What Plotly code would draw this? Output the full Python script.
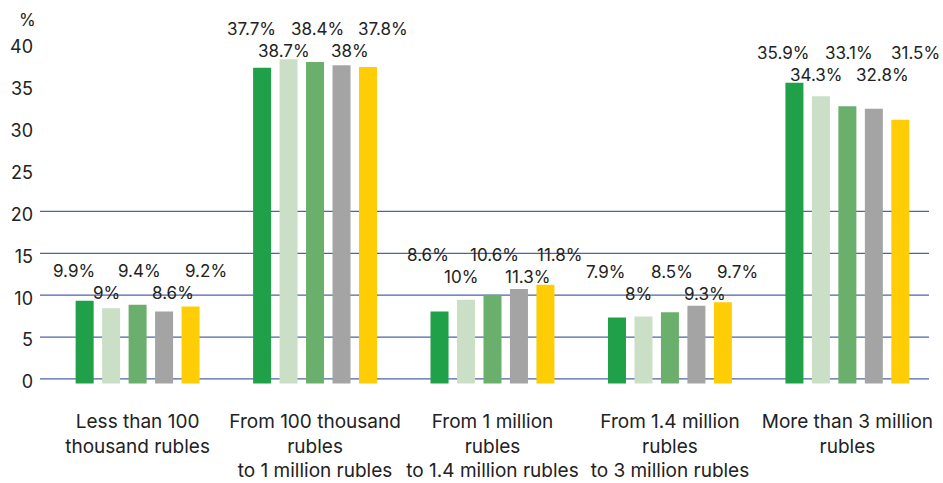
import plotly.graph_objects as go

# Income groups (x categories)
categories = [
    "Less than 100<br>thousand rubles",
    "From 100 thousand<br>rubles<br>to 1 million rubles",
    "From 1 million<br>rubles<br>to 1.4 million rubles",
    "From 1.4 million<br>rubles<br>to 3 million rubles",
    "More than 3 million<br>rubles",
]

# Five series per group, values in %
series_a = [9.9, 37.7, 8.6, 7.9, 35.9]
series_b = [9.0, 38.7, 10.0, 8.0, 34.3]
series_c = [9.4, 38.4, 10.6, 8.5, 33.1]
series_d = [8.6, 38.0, 11.3, 9.3, 32.8]
series_e = [9.2, 37.8, 11.8, 9.7, 31.5]

y_ticks = [0, 5, 10, 15, 20, 25, 30, 35, 40]
grid_levels = [0, 5, 10, 15, 20]

all_series = [series_a, series_b, series_c, series_d, series_e]
colors = ["#21a04a", "#cbdfc7", "#6baf6d", "#a3a4a3", "#fecd06"]

FONT = "Inter"
TEXT_COLOR = "#222222"
BASE = -0.55  # bars sit slightly below the zero line in the original

fig = go.Figure()

for i, vals in enumerate(all_series):
    fig.add_trace(
        go.Bar(
            x=categories,
            y=vals,
            base=BASE,
            marker=dict(color=colors[i], line=dict(width=0)),
            showlegend=False,
            hoverinfo="skip",
        )
    )

# gridlines only up to 20
for g in grid_levels:
    fig.add_shape(
        type="line", xref="paper", x0=0, x1=1, yref="y", y0=g, y1=g,
        line=dict(color="#4a64a6", width=1.3), layer="below",
    )

# staggered value labels
for j, cat in enumerate(categories):
    group_max = max(s[j] for s in all_series)
    for i, vals in enumerate(all_series):
        v = vals[j]
        txt = f"{v:g}%"
        fig.add_annotation(
            x=cat, y=group_max + BASE,
            xref="x", yref="y",
            text=txt, showarrow=False,
            xanchor="center", yanchor="middle",
            xshift=(i - 2) * 33 + 2,
            yshift=30 if i % 2 == 0 else 8,
            font=dict(family=FONT, size=17, color=TEXT_COLOR),
        )

# "%" unit label above the y axis
fig.add_annotation(
    x=0, y=1, xref="paper", yref="paper",
    text="%", showarrow=False,
    xanchor="center", yanchor="bottom",
    xshift=-13, yshift=-12,
    font=dict(family=FONT, size=17, color=TEXT_COLOR),
)

fig.update_layout(
    width=943,
    height=483,
    barmode="group",
    bargap=0.254,
    bargroupgap=0.32,
    plot_bgcolor="white",
    paper_bgcolor="white",
    margin=dict(l=40, r=14, t=20, b=98.5),
    font=dict(family=FONT, color=TEXT_COLOR),
)

fig.update_xaxes(
    range=[-0.55, 4.46],
    automargin=False,
    showgrid=False,
    zeroline=False,
    showline=False,
    ticks="",
    ticklabelstandoff=24,
    tickfont=dict(family=FONT, size=19, color=TEXT_COLOR),
)

fig.update_yaxes(
    range=[-0.6, 42.85],
    automargin=False,
    tickvals=y_ticks,
    showgrid=False,
    zeroline=False,
    showline=False,
    ticks="",
    ticklabelstandoff=6,
    ticklabelshift=3,
    tickfont=dict(family=FONT, size=18, color=TEXT_COLOR),
)

# drop the browser's default body margin so the figure fills the window
fig.write_html(
    "out.html",
    config={"displayModeBar": False},
    post_script="document.body.style.margin='0';",
)
